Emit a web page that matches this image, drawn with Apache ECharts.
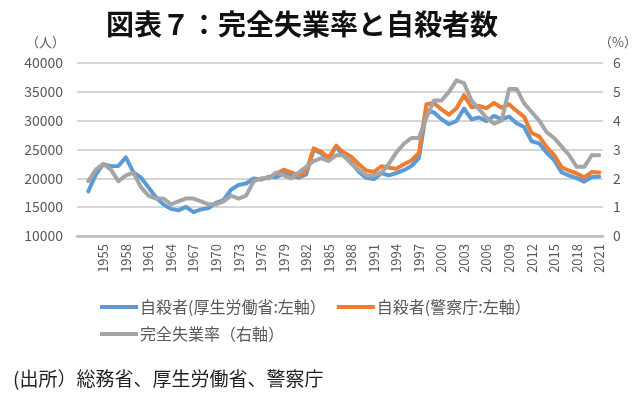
<!DOCTYPE html>
<html>
<head>
<meta charset="utf-8">
<script src="https://cdn.jsdelivr.net/npm/echarts@6/dist/echarts.min.js"></script>
<style>
  html, body { margin: 0; padding: 0; background: #fff; }
  #chart { width: 640px; height: 398px; }
</style>
</head>
<body>
<div id="chart"></div>
<script>
// years on the category axis (1952 is an empty slot, as in the source chart)
const years = [
  1952, 1953, 1954, 1955, 1956, 1957, 1958, 1959, 1960, 1961,
  1962, 1963, 1964, 1965, 1966, 1967, 1968, 1969, 1970, 1971,
  1972, 1973, 1974, 1975, 1976, 1977, 1978, 1979, 1980, 1981,
  1982, 1983, 1984, 1985, 1986, 1987, 1988, 1989, 1990, 1991,
  1992, 1993, 1994, 1995, 1996, 1997, 1998, 1999, 2000, 2001,
  2002, 2003, 2004, 2005, 2006, 2007, 2008, 2009, 2010, 2011,
  2012, 2013, 2014, 2015, 2016, 2017, 2018, 2019, 2020, 2021
];
const xTickLabels = [
  '1955', '1958', '1961', '1964', '1967', '1970', '1973', '1976', '1979', '1982', '1985', '1988',
  '1991', '1994', '1997', '2000', '2003', '2006', '2009', '2012', '2015', '2018', '2021'
];

// 自殺者(厚生労働省)
const suicideMhlw = [
  null, 17731, 20635, 22477, 22107, 22136, 23641, 21090, 20143, 18446,
  16724, 15490, 14707, 14444, 15050, 14121, 14601, 14844, 15728, 16239,
  18015, 18859, 19105, 19975, 19786, 20269, 20199, 20823, 20542, 20096,
  20668, 24985, 24344, 23383, 25524, 23831, 22795, 21125, 20088, 19875,
  20893, 20516, 20923, 21420, 22138, 23494, 31755, 31413, 30251, 29375,
  29949, 32109, 30247, 30553, 29921, 30827, 30229, 30707, 29554, 28896,
  26433, 26063, 24417, 23152, 21017, 20465, 20031, 19425, 20243, 20291
];
// 自殺者(警察庁) – from 1978
const suicidePolice = [
  null, null, null, null, null, null, null, null, null, null,
  null, null, null, null, null, null, null, null, null, null,
  null, null, null, null, null, null, 20788, 21503, 21048, 20434,
  21228, 25202, 24596, 23599, 25667, 24460, 23742, 22436, 21346, 21084,
  22104, 21851, 21679, 22445, 23104, 24391, 32863, 33048, 31957, 31042,
  32143, 34427, 32325, 32552, 32155, 33093, 32249, 32845, 31690, 30651,
  27858, 27283, 25427, 24025, 21897, 21321, 20840, 20169, 21081, 21007
];
// 完全失業率 (%)
const unemployment = [
  null, 1.9, 2.3, 2.5, 2.3, 1.9, 2.1, 2.2, 1.7, 1.4,
  1.3, 1.3, 1.1, 1.2, 1.3, 1.3, 1.2, 1.1, 1.1, 1.2,
  1.4, 1.3, 1.4, 1.9, 2.0, 2.0, 2.2, 2.1, 2.0, 2.2,
  2.4, 2.6, 2.7, 2.6, 2.8, 2.8, 2.5, 2.3, 2.1, 2.1,
  2.2, 2.5, 2.9, 3.2, 3.4, 3.4, 4.1, 4.7, 4.7, 5.0,
  5.4, 5.3, 4.7, 4.4, 4.1, 3.9, 4.0, 5.1, 5.1, 4.6,
  4.3, 4.0, 3.6, 3.4, 3.1, 2.8, 2.4, 2.4, 2.8, 2.8
];

const seriesNames = ['自殺者(厚生労働省:左軸）', '自殺者(警察庁:左軸）', '完全失業率（右軸）'];
const colors = ['#5B9BD5', '#ED7D31', '#A5A5A5'];

const fontJP = 'Noto Sans CJK JP';
const labelColor = '#595959';

var chartDom = document.getElementById('chart');
var myChart = echarts.init(chartDom, null, { renderer: 'canvas' });

const lineSeries = (name, data, color, yAxisIndex) => ({
  name: name,
  type: 'line',
  yAxisIndex: yAxisIndex,
  data: data,
  symbol: 'none',
  connectNulls: false,
  lineStyle: { color: color, width: 4, cap: 'round', join: 'round' },
  itemStyle: { color: color }
});

const legendText = { fontFamily: fontJP, fontSize: 16, color: labelColor, padding: [0, 0, 0, -3] };

const option = {
  animation: false,
  backgroundColor: '#fff',
  textStyle: { fontFamily: fontJP },
  title: [
    {
      text: '図表７：完全失業率と自殺者数',
      left: 101,
      top: 5,
      textStyle: { fontFamily: fontJP, fontSize: 28, fontWeight: 'bold', color: '#111' }
    },
    {
      text: '(出所）総務省、厚生労働省、警察庁',
      left: 8,
      top: 364,
      textStyle: { fontFamily: fontJP, fontSize: 19, fontWeight: 'normal', color: '#222' }
    }
  ],
  legend: [
    {
      data: [seriesNames[0], seriesNames[1]],
      left: 95,
      top: 294,
      icon: 'rect',
      itemWidth: 38,
      itemHeight: 4,
      itemGap: 11,
      textStyle: legendText
    },
    {
      data: [seriesNames[2]],
      left: 95,
      top: 321,
      icon: 'rect',
      itemWidth: 38,
      itemHeight: 4,
      textStyle: legendText
    }
  ],
  grid: {
    left: 77,
    right: 35,
    top: 63,
    bottom: 162
  },
  xAxis: {
    type: 'category',
    data: years,
    boundaryGap: true,
    axisTick: { show: false },
    axisLine: { lineStyle: { color: '#bdbdbd', width: 2.5 } },
    axisLabel: {
      rotate: 90,
      margin: 8,
      fontFamily: fontJP,
      fontSize: 13,
      color: labelColor,
      interval: (index, value) => xTickLabels.includes(String(value))
    }
  },
  yAxis: [
    {
      type: 'value',
      min: 10000,
      max: 40000,
      interval: 5000,
      name: '（人）',
      nameLocation: 'end',
      nameGap: 14,
      nameTextStyle: { fontFamily: fontJP, fontSize: 13, color: labelColor, align: 'right', padding: [0, 12, 0, 0] },
      axisLine: { show: false },
      axisTick: { show: false },
      axisLabel: { margin: 14, fontFamily: fontJP, fontSize: 14, color: labelColor, formatter: (v) => String(v) },
      splitLine: { lineStyle: { color: '#c8c8c8', width: 1.5 } }
    },
    {
      type: 'value',
      min: 0,
      max: 6,
      interval: 1,
      name: '（%）',
      nameLocation: 'end',
      nameGap: 14,
      nameTextStyle: { fontFamily: fontJP, fontSize: 13, color: labelColor, align: 'left', padding: [0, 0, 0, -4] },
      axisLine: { show: false },
      axisTick: { show: false },
      axisLabel: { margin: 10, fontFamily: fontJP, fontSize: 14, color: labelColor },
      splitLine: { show: false }
    }
  ],
  series: [
    lineSeries(seriesNames[0], suicideMhlw, colors[0], 0),
    lineSeries(seriesNames[1], suicidePolice, colors[1], 0),
    lineSeries(seriesNames[2], unemployment, colors[2], 1)
  ]
};

option && myChart.setOption(option);
</script>
</body>
</html>
